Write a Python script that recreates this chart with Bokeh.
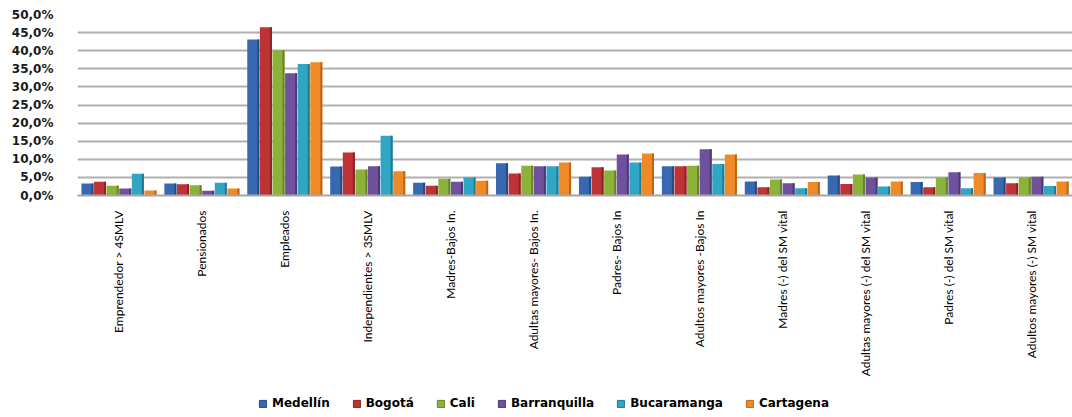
from bokeh.plotting import figure
from bokeh.layouts import column
from bokeh.models import FactorRange, Legend, LegendItem, FixedTicker, ColumnDataSource, Range1d
from bokeh.transform import dodge
from bokeh.embed import file_html
from bokeh.resources import INLINE
import math

categories = [
    "Emprendedor > 4SMLV",
    "Pensionados",
    "Empleados",
    "Independientes > 3SMLV",
    "Madres-Bajos In.",
    "Adultas mayores- Bajos In.",
    "Padres- Bajos In",
    "Adultos mayores -Bajos In",
    "Madres (-) del SM vital",
    "Adultas mayores (-) del SM vital",
    "Padres (-) del SM vital",
    "Adultos mayores (-) SM vital",
]

cities = ["Medellín", "Bogotá", "Cali", "Barranquilla", "Bucaramanga", "Cartagena"]

medellin     = [3.3, 3.3, 43.1, 8.0, 3.5, 8.9, 5.2, 8.1, 3.9, 5.5, 3.7, 5.0]
bogota       = [3.8, 3.1, 46.5, 11.9, 2.7, 6.1, 7.8, 8.1, 2.3, 3.2, 2.3, 3.4]
cali         = [2.7, 2.8, 40.1, 7.2, 4.6, 8.2, 6.9, 8.2, 4.4, 5.8, 5.0, 5.0]
barranquilla = [1.9, 1.3, 33.8, 8.1, 3.8, 8.1, 11.3, 12.8, 3.4, 5.0, 6.4, 5.2]
bucaramanga  = [6.0, 3.5, 36.3, 16.5, 5.0, 8.1, 9.1, 8.7, 2.0, 2.5, 2.0, 2.6]
cartagena    = [1.4, 1.9, 36.8, 6.7, 4.1, 9.1, 11.6, 11.3, 3.7, 3.9, 6.2, 3.9]

y_ticks = [0, 5, 10, 15, 20, 25, 30, 35, 40, 45, 50]
y_tick_labels = ["0,0%", "5,0%", "10,0%", "15,0%", "20,0%", "25,0%",
                 "30,0%", "35,0%", "40,0%", "45,0%", "50,0%"]

series = [medellin, bogota, cali, barranquilla, bucaramanga, cartagena]
colors = ["#3868B0", "#BE3335", "#8CB23A", "#6F519D", "#30A6C4", "#F08A26"]
side_colors = ["#234A86", "#8E2224", "#66842A", "#4F3875", "#207A92", "#BA6618"]

src = {"cat": categories}
for i, s in enumerate(series):
    src[f"s{i}"] = s
source = ColumnDataSource(src)

W = 1072
p = figure(
    x_range=FactorRange(*categories, range_padding=0),
    y_range=(0, 50),
    width=W, height=389,
    output_backend="svg", toolbar_location=None,
    min_border_left=77, min_border_right=0, min_border_top=14, min_border_bottom=194,
)
p.outline_line_color = None
p.background_fill_color = "white"
p.border_fill_color = "white"

step = 0.152
bw = 0.145
for i in range(6):
    off = (i - 2.5) * step
    p.vbar(x=dodge("cat", off, range=p.x_range), top=f"s{i}", width=bw,
           source=source, fill_color=colors[i], line_color=None)
    p.vbar(x=dodge("cat", off + bw / 2 - 0.012, range=p.x_range), top=f"s{i}", width=0.024,
           source=source, fill_color=side_colors[i], line_color=None)

p.yaxis.ticker = FixedTicker(ticks=y_ticks)
p.yaxis.major_label_overrides = {t: l for t, l in zip(y_ticks, y_tick_labels)}
p.yaxis.axis_line_color = None
p.yaxis.major_tick_line_color = None
p.yaxis.major_tick_out = 0
p.yaxis.major_tick_in = 0
p.yaxis.minor_tick_line_color = None
p.yaxis.major_label_standoff = 24
p.yaxis.major_label_text_font = "DejaVu Sans"
p.yaxis.major_label_text_font_style = "bold"
p.yaxis.major_label_text_font_size = "12px"
p.yaxis.major_label_text_color = "#1a1a1a"

p.xaxis.axis_line_color = "#A6A6A6"
p.xaxis.axis_line_width = 2
p.xaxis.major_tick_line_color = None
p.xaxis.major_tick_out = 0
p.xaxis.major_tick_in = 0
p.xaxis.minor_tick_line_color = None
p.xaxis.major_label_orientation = math.pi / 2
p.xaxis.major_label_standoff = 15
p.xaxis.major_label_text_font = "Lato"
p.xaxis.major_label_text_font_size = "12px"
p.xaxis.major_label_text_color = "#000000"

p.xgrid.grid_line_color = None
p.ygrid.grid_line_color = "#B0B0B0"
p.ygrid.grid_line_width = 2

# legend strip
p2 = figure(width=W, height=26, output_backend="svg", toolbar_location=None,
            x_range=Range1d(0, 1), y_range=Range1d(0, 1),
            x_axis_location=None, y_axis_location=None,
            min_border_left=0, min_border_right=0, min_border_top=0, min_border_bottom=0)
p2.grid.visible = False
p2.outline_line_color = None
items = []
for i in range(6):
    # zero-height placeholder so the legend has a glyph to draw
    r = p2.vbar(x=[0.5], top=[0], bottom=[0], width=0, fill_color=colors[i],
                line_color=side_colors[i], line_width=1)
    items.append(LegendItem(label=cities[i], renderers=[r]))

legend = Legend(items=items, orientation="horizontal", location=(181, 5),
                padding=0, margin=0, spacing=22, label_standoff=5,
                glyph_width=9, glyph_height=9, label_height=14,
                border_line_color=None, background_fill_alpha=0)
legend.label_text_font = "DejaVu Sans"
legend.label_text_font_style = "bold"
legend.label_text_font_size = "12px"
legend.label_text_color = "#000000"
p2.add_layout(legend)

layout = column(p, p2, spacing=0)
open("out.html", "w").write(file_html(layout, INLINE))
